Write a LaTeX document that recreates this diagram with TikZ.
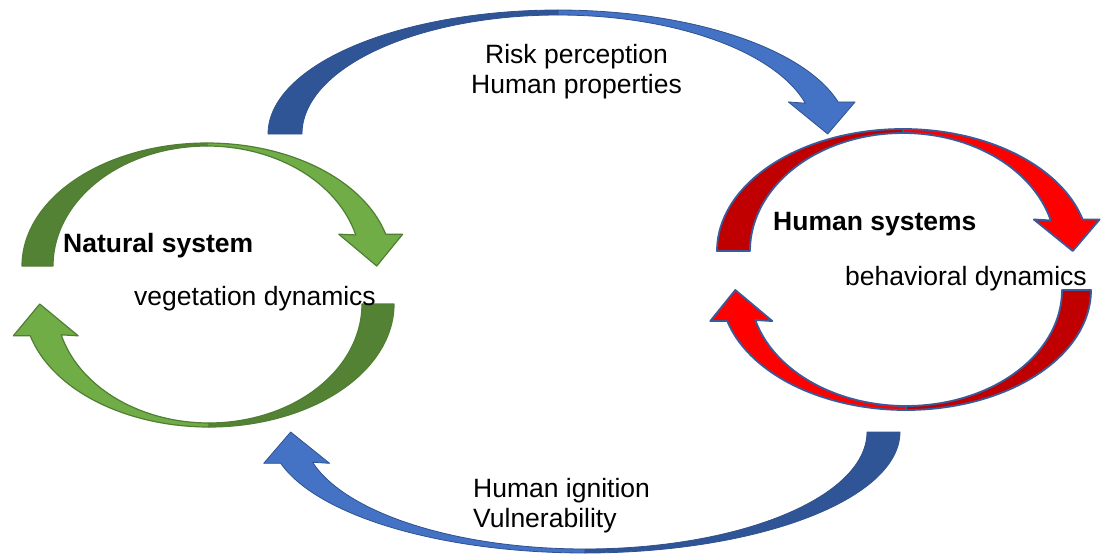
\documentclass[tikz,border=0pt]{standalone}
\usepackage{fontspec}
\setmainfont{Liberation Sans}
\definecolor{gdark}{HTML}{548235}
\definecolor{glight}{HTML}{70AD47}
\definecolor{gline}{HTML}{507E32}
\definecolor{bdark}{HTML}{2F5597}
\definecolor{blight}{HTML}{4472C4}
\definecolor{bline}{HTML}{2F528F}
\definecolor{rdark}{HTML}{C00000}
\definecolor{rlight}{HTML}{FF0000}
\definecolor{rline}{HTML}{3A5A9A}
% #1 cx, #2 cy, #3 rx, #4 ry, #5 rx inner, #6 ry inner, #7 tail angle, #8 apex angle, #9 head angle
\newcommand{\curvedarrow}[9]{%
  \pgfmathsetmacro\hox{#1+#3*cos(#9)}%
  \pgfmathsetmacro\hoy{#2+#4*sin(#9)}%
  \pgfmathsetmacro\hix{#1+#5*cos(#9)}%
  \pgfmathsetmacro\sgn{sign(cos(#9))}%
  \pgfmathsetmacro\wox{\hox+17*\sgn}%
  \pgfmathsetmacro\wix{\hix-17*\sgn}%
  \pgfmathsetmacro\tipx{(\hox+\hix)/2+6*\sgn}%
  \path[darkpart] plot[domain=#7:#8] ({#1+#3*cos(\x)},{#2+#4*sin(\x)})
    -- plot[domain=#8:#7] ({#1+#5*cos(\x)},{#2+#6*sin(\x)}) -- cycle;
  \path[lightpart] plot[domain=#8:#9] ({#1+#3*cos(\x)},{#2+#4*sin(\x)})
    -- (\wox,\hoy) -- (\tipx,#2) -- (\wix,\hoy)
    -- plot[domain=#9:#8] ({#1+#5*cos(\x)},{#2+#6*sin(\x)}) -- cycle;
}
\tikzset{
  lbl/.style={font=\fontsize{26.5}{30}\selectfont, inner sep=0pt, text=black},
  blbl/.style={lbl, font=\fontsize{26.5}{30}\selectfont\bfseries},
}
\begin{document}
\begin{tikzpicture}[x=1pt, y=-1pt, samples=60, line join=round]
\useasboundingbox (0,0) rectangle (1104,555);
% green (natural system)
\begin{scope}[darkpart/.style={fill=gdark, draw=gline, line width=1.2pt},
              lightpart/.style={fill=glight, draw=gline, line width=1.2pt}]
  \curvedarrow{207}{266}{185}{123}{154}{120}{180}{270}{345}
  \curvedarrow{209}{304}{185}{123}{153}{119}{0}{90}{165}
\end{scope}
% red (human systems)
\begin{scope}[darkpart/.style={fill=rdark, draw=rline, line width=1.8pt},
              lightpart/.style={fill=rlight, draw=rline, line width=1.8pt}]
  \curvedarrow{903}{251}{186}{122}{153}{118}{180}{270}{345}
  \curvedarrow{906}{290}{185}{120}{156}{116}{0}{90}{165}
\end{scope}
% blue (couplings)
\begin{scope}[darkpart/.style={fill=bdark, draw=bline, line width=0.8pt},
              lightpart/.style={fill=blight, draw=bline, line width=0.8pt}]
  \curvedarrow{558}{134}{290}{124}{256}{119}{180}{270}{345}
  \curvedarrow{585}{432}{315}{121}{282}{117}{0}{90}{165}
\end{scope}
% labels
\node[blbl, anchor=base west] (natural) at (63,252) {Natural system};
\node[lbl, anchor=base west] (veg) at (134,305) {vegetation dynamics};
\node[blbl, anchor=base west] (human) at (773,230) {Human systems};
\node[lbl, anchor=base west] (behav) at (845,285) {behavioral dynamics};
\node[lbl, anchor=base] (risk) at (576.5,63) {Risk perception};
\node[lbl, anchor=base] (props) at (576.5,93) {Human properties};
\node[lbl, anchor=base west] (ign) at (473,497) {Human ignition};
\node[lbl, anchor=base west] (vuln) at (473,527) {Vulnerability};
\end{tikzpicture}
\end{document}
